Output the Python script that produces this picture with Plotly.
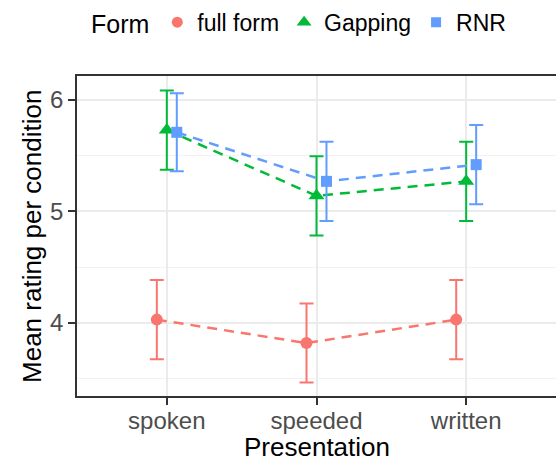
import plotly.graph_objects as go

presentation = ["spoken", "speeded", "written"]
forms = ["full form", "Gapping", "RNR"]
means = {
    "full form": [4.03, 3.82, 4.03],
    "Gapping": [5.73, 5.14, 5.27],
    "RNR": [5.71, 5.27, 5.42],
}
errors = {
    "full form": [0.355, 0.355, 0.355],
    "Gapping": [0.355, 0.355, 0.355],
    "RNR": [0.35, 0.355, 0.355],
}
colors = {"full form": "#F8766D", "Gapping": "#00BA38", "RNR": "#619CFF"}
symbols = {"full form": "circle", "Gapping": "triangle-up", "RNR": "square"}
msizes = {"full form": 12, "Gapping": 14, "RNR": 11}

dodge = 0.2
FONT = "Liberation Sans, Arial, Helvetica, sans-serif"

fig = go.Figure()
n = len(forms)
for i, f in enumerate(forms):
    off = (i - (n - 1) / 2) * dodge / n
    xs = [k + 1 + off for k in range(len(presentation))]
    fig.add_trace(go.Scatter(
        x=xs, y=means[f], mode="lines+markers", name=f, showlegend=False,
        line=dict(color=colors[f], width=2.5, dash="10px,7px"),
        marker=dict(color=colors[f], symbol=symbols[f], size=msizes[f]),
        error_y=dict(type="data", array=errors[f], color=colors[f], thickness=2, width=7),
    ))

for f in forms:
    fig.add_trace(go.Scatter(
        x=[None], y=[None], mode="markers", name=f, showlegend=True,
        marker=dict(color=colors[f], symbol=symbols[f], size=msizes[f] - 1),
    ))

fig.update_layout(
    width=556, height=461,
    margin=dict(l=77, r=0, t=76, b=65, autoexpand=False),
    paper_bgcolor="white", plot_bgcolor="white",
    font=dict(family=FONT, color="black"),
    legend=dict(
        orientation="h", x=0.025, xanchor="left", y=1.168, yanchor="middle",
        title=dict(text="Form", font=dict(size=25, color="black"), side="left"),
        font=dict(size=23, color="black"),
        itemwidth=30,
    ),
    xaxis=dict(
        range=[0.4, 3.6], tickmode="array", tickvals=[1, 2, 3], ticktext=presentation,
        showgrid=True, gridcolor="#EBEBEB", gridwidth=1.5,
        showline=True, linecolor="#333333", linewidth=1.5, mirror=True,
        ticks="outside", ticklen=7, tickwidth=1.5, tickcolor="#333333",
        tickfont=dict(size=24, color="#4D4D4D"), ticklabelstandoff=-5,
        automargin=False, zeroline=False,
    ),
    yaxis=dict(
        range=[3.345, 6.215], tickmode="array", tickvals=[4, 5, 6],
        showgrid=True, gridcolor="#EBEBEB", gridwidth=1.5,
        minor=dict(tickvals=[3.5, 4.5, 5.5], showgrid=True, gridcolor="#F2F2F2", gridwidth=1, ticks=""),
        showline=True, linecolor="#333333", linewidth=1.5, mirror=True,
        ticks="outside", ticklen=7, tickwidth=1.5, tickcolor="#333333",
        tickfont=dict(size=24, color="#4D4D4D"),
        automargin=False, zeroline=False,
    ),
    annotations=[
        dict(text="Presentation", xref="paper", yref="paper", x=0.5, y=-0.16,
             xanchor="center", yanchor="middle", showarrow=False,
             font=dict(size=26, color="black")),
        dict(text="Mean rating per condition", xref="paper", yref="paper", x=-0.094, y=0.5,
             xanchor="center", yanchor="middle", textangle=-90, showarrow=False,
             font=dict(size=26, color="black")),
    ],
)

fig.write_html(
    "out.html",
    config={"displayModeBar": False},
    post_script="document.body.style.margin='0';document.body.style.padding='0';",
)
